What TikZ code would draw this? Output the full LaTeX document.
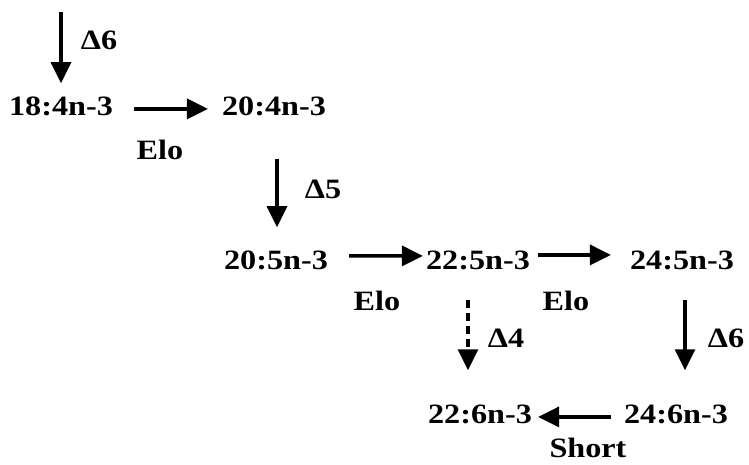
\documentclass[tikz,border=0pt]{standalone}
\usepackage{fontspec}
\setmainfont{Liberation Serif}
\usetikzlibrary{arrows.meta}
\newcommand{\wide}[1]{\scalebox{1.15}[1]{#1}}
\begin{document}
\begin{tikzpicture}[x=1pt,y=-1pt,
  lbl/.style={font=\fontsize{28}{30}\selectfont\bfseries, inner sep=0pt, anchor=base},
  arr/.style={line width=3.4pt, -{Triangle[width=20pt,length=21pt]}},
  dsh/.style={arr, dash pattern=on 8pt off 5pt}]
\useasboundingbox (0,0) rectangle (749,465);
% compounds
\node[lbl] (a) at (61,116) {\wide{18:4n-3}};
\node[lbl] (b) at (274,116) {\wide{20:4n-3}};
\node[lbl] (c) at (276,269) {\wide{20:5n-3}};
\node[lbl] (d) at (478,269) {\wide{22:5n-3}};
\node[lbl] (e) at (682,269) {\wide{24:5n-3}};
\node[lbl] (f) at (480,423) {\wide{22:6n-3}};
\node[lbl] (g) at (676,423) {\wide{24:6n-3}};
% labels
\node[lbl] (l1) at (99,50) {\wide{Δ6}};
\node[lbl] (l2) at (160,160) {\wide{Elo}};
\node[lbl] (l3) at (323,198) {\wide{Δ5}};
\node[lbl] (l4) at (377,310) {\wide{Elo}};
\node[lbl] (l5) at (566,310) {\wide{Elo}};
\node[lbl] (l6) at (506,347) {\wide{Δ4}};
\node[lbl] (l7) at (726,347) {\wide{Δ6}};
\node[lbl] (l8) at (588,457) {\wide{Short}};
% connectors
\coordinate (top) at (61,12);
\draw[arr, shorten >=14pt] (top) -- (a.north);
\draw[arr, shorten <=21pt, shorten >=14pt] ([yshift=-2pt]a.east) -- ([yshift=-2pt]b.west);
\draw[arr, shorten <=42pt, shorten >=23pt] ([xshift=3pt]b.south) -- ([xshift=1pt]c.north);
\draw[arr, shorten <=21pt, shorten >=3pt] ([yshift=4pt]c.east) -- ([yshift=4pt]d.west);
\draw[arr, shorten <=8pt, shorten >=19pt] ([yshift=5pt]d.east) -- ([yshift=5pt]e.west);
\draw[dsh, shorten <=30pt, shorten >=34pt] ([xshift=-10pt]d.south) -- ([xshift=-12pt]f.north);
\draw[arr, shorten <=30pt, shorten >=34pt] ([xshift=3pt]e.south) -- ([xshift=9pt]g.north);
\draw[arr, shorten <=13pt, shorten >=6pt] ([yshift=-3pt]g.west) -- ([yshift=-3pt]f.east);
\end{tikzpicture}
\end{document}
